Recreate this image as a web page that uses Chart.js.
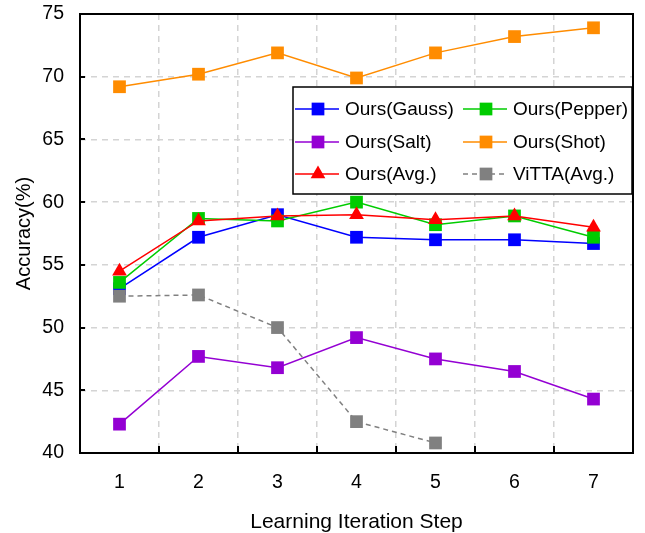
<!DOCTYPE html>
<html>
<head>
<meta charset="utf-8">
<script src="https://cdn.jsdelivr.net/npm/chart.js@4/dist/chart.umd.min.js"></script>
<style>
  html, body { margin: 0; padding: 0; background: #fff; }
  #wrap { width: 645px; height: 533px; }
</style>
</head>
<body>
<div id="wrap"><canvas id="chart" width="645" height="533"></canvas></div>
<script>
// data
const steps = ['1', '2', '3', '4', '5', '6', '7'];
const yTicks = [40, 45, 50, 55, 60, 65, 70, 75];
const gauss  = [53.1, 57.2, 59.0, 57.2, 57.0, 57.0, 56.7];
const pepper = [53.6, 58.7, 58.5, 60.0, 58.2, 58.9, 57.2];
const salt   = [42.3, 47.7, 46.8, 49.2, 47.5, 46.5, 44.3];
const shot   = [69.2, 70.2, 71.9, 69.9, 71.9, 73.2, 73.9];
const avg    = [54.5, 58.5, 58.9, 59.0, 58.6, 58.9, 58.0];
const vitta  = [52.5, 52.6, 50.0, 42.5, 40.8, null, null];

const FONT = "'Liberation Sans', Arial, sans-serif";

const series = (label, data, color, opts) => Object.assign({
    label: label,
    data: data,
    borderColor: color,
    backgroundColor: color,
    pointBackgroundColor: color,
    borderWidth: 1.5,
    pointStyle: 'rect',
    pointRadius: 9,
    pointHoverRadius: 9,
    pointBorderWidth: 0,
    tension: 0,
    fill: false
}, opts || {});

const datasets = [
    series('Ours(Gauss)', gauss, '#0000ff', { order: 6 }),
    series('Ours(Pepper)', pepper, '#00cc00', { order: 5 }),
    series('Ours(Salt)', salt, '#9400d3', { order: 4 }),
    series('Ours(Shot)', shot, '#ff8c00', { order: 3 }),
    series('Ours(Avg.)', avg, '#ff0000', { order: 1, pointStyle: 'triangle', pointRadius: 8.5, pointHoverRadius: 8.5 }),
    series('ViTTA(Avg.)', vitta, '#808080', { order: 2, borderDash: [5, 4] })
];

// box, inner ticks and the legend inside the plot
const framePlugin = {
    id: 'frame',
    afterDatasetsDraw(chart) {
        const ctx = chart.ctx;
        const a = chart.chartArea;
        const ys = chart.scales.y;
        ctx.save();
        ctx.strokeStyle = '#000';
        ctx.lineWidth = 2;
        ctx.setLineDash([]);
        ctx.beginPath();
        yTicks.forEach(v => {
            const py = Math.round(ys.getPixelForValue(v));
            ctx.moveTo(a.left, py);
            ctx.lineTo(a.left + 5, py);
        });
        const step = (a.right - a.left) / steps.length;
        for (let i = 1; i < steps.length; i++) {
            const px = Math.round(a.left + i * step);
            ctx.moveTo(px, a.bottom);
            ctx.lineTo(px, a.bottom - 7);
        }
        ctx.stroke();
        ctx.strokeRect(a.left, a.top, a.right - a.left, a.bottom - a.top);

        // legend
        const lx = 293, ly = 87, lw = 339, lh = 107;
        ctx.fillStyle = '#fff';
        ctx.fillRect(lx, ly, lw, lh);
        ctx.lineWidth = 1.5;
        ctx.strokeRect(lx, ly, lw, lh);
        const cols = [295, 463];
        const rows = [109, 142, 174];
        ctx.font = '19px ' + FONT;
        ctx.textBaseline = 'middle';
        ctx.textAlign = 'left';
        chart.data.datasets.forEach((ds, i) => {
            const x0 = cols[i % 2];
            const y0 = rows[Math.floor(i / 2)];
            ctx.strokeStyle = ds.borderColor;
            ctx.lineWidth = 1.5;
            ctx.setLineDash(ds.borderDash || []);
            ctx.beginPath();
            ctx.moveTo(x0, y0);
            ctx.lineTo(x0 + 44, y0);
            ctx.stroke();
            ctx.setLineDash([]);
            ctx.fillStyle = ds.pointBackgroundColor;
            Chart.helpers.drawPoint(ctx, {
                pointStyle: ds.pointStyle,
                radius: ds.pointRadius,
                rotation: 0,
                borderWidth: 0
            }, x0 + 23, y0);
            ctx.fillStyle = '#000';
            ctx.fillText(ds.label, x0 + 50, y0 + 1);
        });
        ctx.restore();
    }
};

new Chart(document.getElementById('chart'), {
    type: 'line',
    data: { labels: steps, datasets: datasets },
    plugins: [framePlugin],
    options: {
        responsive: false,
        animation: false,
        spanGaps: false,
        layout: { padding: { top: 14, right: 12, left: 0, bottom: 0 } },
        plugins: {
            legend: { display: false },
            tooltip: { enabled: false }
        },
        scales: {
            x: {
                type: 'category',
                offset: true,
                grid: { offset: true, color: '#d4d4d4', lineWidth: 1.5, drawTicks: false },
                border: { display: false, dash: [6, 5] },
                ticks: { color: '#000', font: { family: FONT, size: 19.5 }, padding: 18, maxRotation: 0 },
                title: { display: true, text: 'Learning Iteration Step', color: '#000', font: { family: FONT, size: 21 }, padding: { top: 0, bottom: -2 } },
                afterFit: s => { s.height = 80; s.paddingLeft = 0; s.paddingRight = 0; }
            },
            y: {
                min: 40,
                max: 75,
                afterBuildTicks: s => { s.ticks = yTicks.map(v => ({ value: v })); },
                grid: { color: '#d4d4d4', lineWidth: 1.5, drawTicks: false },
                border: { display: false, dash: [6, 5] },
                ticks: { color: '#000', font: { family: FONT, size: 19.5 }, padding: 16 },
                title: { display: true, text: 'Accuracy(%)', color: '#000', font: { family: FONT, size: 20 }, padding: { top: 12, bottom: 0 } },
                afterFit: s => { s.width = 80; s.paddingTop = 0; s.paddingBottom = 0; }
            }
        }
    }
});
</script>
</body>
</html>
